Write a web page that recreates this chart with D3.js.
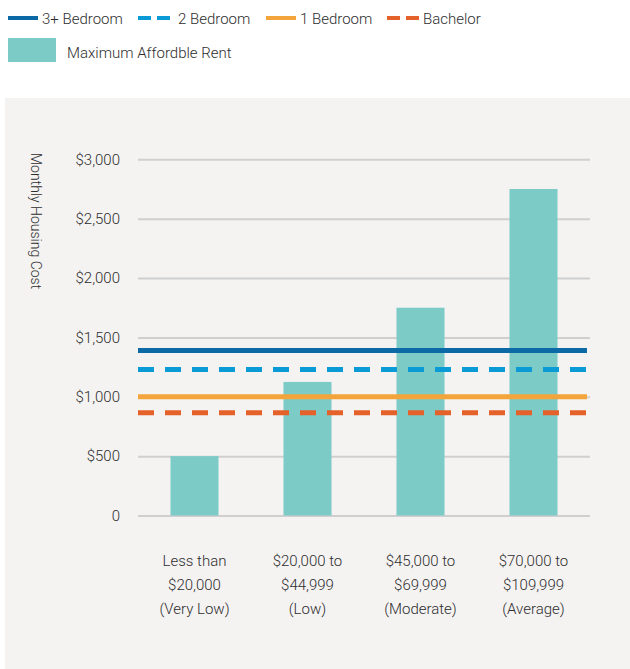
<!DOCTYPE html>
<html>
<head>
<meta charset="utf-8">
<script src="https://cdn.jsdelivr.net/npm/d3@7"></script>
<style>
  body { margin: 0; background: #fff; }
  svg text { font-family: "Roboto", "Liberation Sans", sans-serif; font-weight: 300; fill: #2e2e2e; }
</style>
</head>
<body>
<svg id="chart" width="630" height="669"></svg>
<script>
const categories = [
  ["Less than", "$20,000", "(Very Low)"],
  ["$20,000 to", "$44,999", "(Low)"],
  ["$45,000 to", "$69,999", "(Moderate)"],
  ["$70,000 to", "$109,999", "(Average)"]
];
const maxAffordableRent = [500, 1125, 1750, 2750];
const rentSeries = ["3+ Bedroom", "2 Bedroom", "1 Bedroom", "Bachelor"];
const rentValues = [1390, 1230, 1000, 865];
const yTicks = [0, 500, 1000, 1500, 2000, 2500, 3000];

const rentColors = ["#0b6aa5", "#0a9ad6", "#f3a43b", "#e4622a"];
const rentDashed = [false, true, false, true];
const barColor = "#7ccbc7";

const svg = d3.select("#chart");

// panel background
svg.append("rect")
    .attr("x", 5).attr("y", 98)
    .attr("width", 625).attr("height", 571)
    .attr("fill", "#f4f3f2");

const plot = {left: 138, right: 590, top: 159.3, bottom: 515.5};

const x = d3.scaleBand()
    .domain(d3.range(categories.length))
    .range([plot.left, plot.right])
    .paddingInner(0.575)
    .paddingOuter(0.2875);

const y = d3.scaleLinear().domain([0, 3000]).range([plot.bottom, plot.top]);

// gridlines + tick labels
const yAxis = d3.axisLeft(y)
    .tickValues(yTicks)
    .tickSize(-(plot.right - plot.left))
    .tickPadding(18)
    .tickFormat(d => d === 0 ? "0" : "$" + d3.format(",")(d));

const gy = svg.append("g")
    .attr("transform", `translate(${plot.left},0)`)
    .call(yAxis);
gy.select(".domain").remove();
gy.selectAll(".tick line").attr("stroke", "#cfcfcf").attr("stroke-width", 2);
gy.selectAll(".tick text").attr("font-size", 15).attr("fill", "#2e2e2e");

// axis title
svg.append("text")
    .attr("transform", "translate(31,153) rotate(90)")
    .attr("font-size", 14)
    .text("Monthly Housing Cost");

// bars
svg.append("g").selectAll("rect")
  .data(maxAffordableRent)
  .join("rect")
    .attr("x", (d, i) => x(i))
    .attr("width", x.bandwidth())
    .attr("y", d => y(d))
    .attr("height", d => y(0) - y(d))
    .attr("fill", barColor);

// rent lines
svg.append("g").selectAll("line")
  .data(rentValues)
  .join("line")
    .attr("x1", plot.left)
    .attr("x2", plot.right - 3)
    .attr("y1", d => y(d))
    .attr("y2", d => y(d))
    .attr("stroke", (d, i) => rentColors[i])
    .attr("stroke-width", 5)
    .attr("stroke-dasharray", (d, i) => rentDashed[i] ? "16,11" : null);

// x labels
const xl = svg.append("g").selectAll("text")
  .data(categories)
  .join("text")
    .attr("x", (d, i) => x(i) + x.bandwidth() / 2)
    .attr("y", 566)
    .attr("text-anchor", "middle")
    .attr("font-size", 15);
xl.selectAll("tspan")
  .data(d => d)
  .join("tspan")
    .attr("x", function() { return this.parentNode.getAttribute("x"); })
    .attr("dy", (d, i) => i === 0 ? 0 : 24)
    .text(d => d);

// legend
const legendX = [8, 138, 266, 387];
const legendTextX = [34, 40, 34, 36];
const legend = svg.append("g").selectAll("g")
  .data(rentSeries)
  .join("g")
    .attr("transform", (d, i) => `translate(${legendX[i]},18)`);
legend.append("line")
    .attr("x1", 0).attr("x2", (d, i) => rentDashed[i] ? 32 : 30)
    .attr("stroke", (d, i) => rentColors[i])
    .attr("stroke-width", 4)
    .attr("stroke-dasharray", (d, i) => rentDashed[i] ? "13,6" : null);
legend.append("text")
    .attr("x", (d, i) => legendTextX[i])
    .attr("y", 6)
    .attr("font-size", 15)
    .text(d => d);

svg.append("rect")
    .attr("x", 8).attr("y", 38)
    .attr("width", 48).attr("height", 24)
    .attr("fill", barColor);
svg.append("text")
    .attr("x", 67).attr("y", 58)
    .attr("font-size", 15)
    .text("Maximum Affordble Rent");
</script>
</body>
</html>
